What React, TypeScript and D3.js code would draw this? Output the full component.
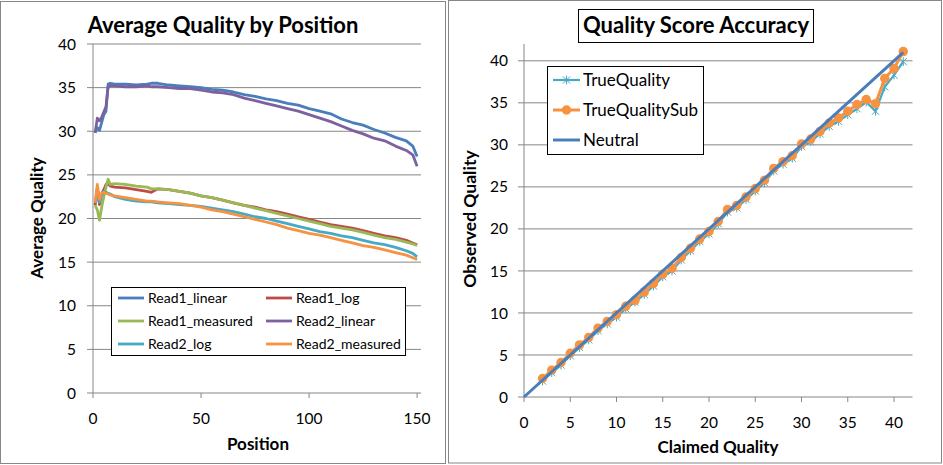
import React from 'react';
import * as d3 from 'd3';

// ---- left chart: average quality by read position ----
const positions = [1, 2, 3, 4, 5, 6, 7, 8, 10, 15, 20, 25, 27, 30, 35, 40, 45, 50, 55, 60, 65, 70, 75, 80, 85, 90, 95, 100, 105, 110, 115, 120, 125, 130, 135, 140, 145, 148, 150];

const read1Linear = [29.9, 30.4, 30.1, 31.0, 31.9, 32.3, 35.4, 35.5, 35.4, 35.4, 35.3, 35.4, 35.5, 35.5, 35.3, 35.2, 35.1, 35.0, 34.8, 34.7, 34.5, 34.2, 34.0, 33.7, 33.5, 33.2, 33.0, 32.6, 32.3, 32.0, 31.4, 31.0, 30.7, 30.2, 29.8, 29.3, 28.9, 28.3, 27.1];
const read1Log = [21.5, 23.5, 21.6, 22.8, 23.3, 23.9, 24.0, 23.7, 23.6, 23.5, 23.3, 23.1, 23.0, 23.4, 23.3, 23.1, 22.9, 22.6, 22.4, 22.1, 21.8, 21.5, 21.3, 21.0, 20.8, 20.5, 20.2, 19.9, 19.6, 19.3, 19.1, 18.9, 18.6, 18.3, 18.0, 17.8, 17.5, 17.2, 17.0];
const read1Measured = [21.5, 21.0, 19.8, 21.3, 22.5, 23.6, 24.5, 23.9, 24.0, 23.9, 23.7, 23.6, 23.4, 23.4, 23.3, 23.1, 22.9, 22.6, 22.4, 22.1, 21.8, 21.5, 21.2, 20.9, 20.6, 20.3, 20.0, 19.7, 19.4, 19.1, 18.9, 18.7, 18.4, 18.1, 17.8, 17.6, 17.3, 17.1, 16.9];
const read2Linear = [29.8, 31.5, 31.2, 31.6, 32.2, 32.8, 35.1, 35.2, 35.2, 35.1, 35.1, 35.2, 35.1, 35.1, 35.0, 34.9, 34.9, 34.7, 34.5, 34.4, 34.2, 33.8, 33.5, 33.2, 32.9, 32.6, 32.3, 31.9, 31.5, 31.1, 30.6, 30.1, 29.7, 29.2, 28.9, 28.3, 27.8, 27.3, 26.0];
const read2Log = [21.8, 22.4, 21.9, 22.7, 23.1, 23.0, 22.9, 22.8, 22.5, 22.2, 22.0, 21.9, 21.9, 21.8, 21.7, 21.6, 21.5, 21.4, 21.2, 21.0, 20.8, 20.5, 20.2, 20.0, 19.7, 19.4, 19.1, 18.8, 18.5, 18.3, 18.0, 17.8, 17.5, 17.2, 17.0, 16.7, 16.3, 16.0, 15.6];
const read2Measured = [21.8, 23.9, 22.2, 22.9, 23.0, 22.9, 22.8, 22.7, 22.6, 22.4, 22.2, 22.0, 22.0, 21.9, 21.8, 21.7, 21.5, 21.3, 21.0, 20.8, 20.5, 20.2, 19.9, 19.6, 19.3, 18.9, 18.6, 18.3, 18.1, 17.8, 17.5, 17.2, 16.9, 16.7, 16.4, 16.1, 15.8, 15.5, 15.3];

const leftSeries = [
  { name: 'Read1_linear', values: read1Linear, color: '#4A7EBB' },
  { name: 'Read1_log', values: read1Log, color: '#BE4B48' },
  { name: 'Read1_measured', values: read1Measured, color: '#98B954' },
  { name: 'Read2_linear', values: read2Linear, color: '#7D60A0' },
  { name: 'Read2_log', values: read2Log, color: '#46AAC5' },
  { name: 'Read2_measured', values: read2Measured, color: '#F69240' },
];
const leftXTicks = [0, 50, 100, 150];
const leftYTicks = [0, 5, 10, 15, 20, 25, 30, 35, 40];

// ---- right chart: quality score accuracy ----
const claimed = [2, 3, 4, 5, 6, 7, 8, 9, 10, 11, 12, 13, 14, 15, 16, 17, 18, 19, 20, 21, 22, 23, 24, 25, 26, 27, 28, 29, 30, 31, 32, 33, 34, 35, 36, 37, 38, 39, 40, 41];
const trueQuality = [1.9, 2.9, 3.8, 4.9, 5.9, 6.8, 7.9, 8.7, 9.5, 10.5, 11.3, 12.2, 13.2, 14.3, 15.0, 16.3, 17.4, 18.5, 19.4, 20.6, 22.0, 22.5, 23.5, 24.5, 25.5, 26.9, 27.7, 28.4, 29.8, 30.4, 31.3, 32.2, 32.8, 33.6, 34.3, 35.1, 34.0, 36.9, 38.3, 39.9];
const trueQualitySub = [2.2, 3.2, 4.1, 5.2, 6.2, 7.1, 8.2, 9.0, 9.8, 10.8, 11.5, 12.5, 13.5, 14.6, 15.3, 16.6, 17.7, 18.8, 19.7, 20.9, 22.3, 22.8, 23.8, 24.8, 25.8, 27.2, 28.0, 28.7, 30.1, 30.7, 31.6, 32.6, 33.2, 34.0, 34.8, 35.4, 34.9, 37.9, 39.1, 41.1];
const neutralX = [0, 41];
const neutralY = [0, 41];
const rightTicks = [0, 5, 10, 15, 20, 25, 30, 35, 40];

const FONT = "Lato, 'Noto Sans', sans-serif";
const GRID = '#868686';

function starPath(cx: number, cy: number, s = 3.6) {
  return `M${cx - s},${cy - s}L${cx + s},${cy + s}M${cx - s},${cy + s}L${cx + s},${cy - s}M${cx},${cy - s - 0.8}L${cx},${cy + s + 0.8}`;
}

function LeftChart() {
  const x = d3.scaleLinear().domain([0, 151.8]).range([93, 421]);
  const y = d3.scaleLinear().domain([0, 40]).range([393, 44]);
  const line = d3.line<number>().x((_, i) => x(positions[i])).y(d => y(d));
  const [x0, x1] = x.range();

  return (
    <g>
      <rect x={0.5} y={1.5} width={445} height={462} fill="#fff" stroke="#878787" />
      {leftYTicks.map(t => (
        <g key={t}>
          <line x1={x0 - 6} x2={x1} y1={y(t)} y2={y(t)} stroke={GRID} strokeWidth={1} />
          <text x={76} y={y(t)} dy="0.36em" textAnchor="end" fontSize={15.5} fill="#000">{t}</text>
        </g>
      ))}
      <line x1={x0} x2={x0} y1={y(40)} y2={y(0)} stroke={GRID} />
      {leftXTicks.map(t => (
        <g key={t}>
          <line x1={x(t)} x2={x(t)} y1={y(0)} y2={y(0) + 5} stroke={GRID} />
          <text x={x(t)} y={424} textAnchor="middle" fontSize={15.5} fill="#000">{t}</text>
        </g>
      ))}
      {leftSeries.map(s => (
        <path key={s.name} d={line(s.values) ?? ''} fill="none" stroke={s.color} strokeWidth={2.8} strokeLinejoin="round" />
      ))}
      <text x={223} y={33} textAnchor="middle" fontSize={22} fontWeight="bold">Average Quality by Position</text>
      <text x={258} y={450} textAnchor="middle" fontSize={17} fontWeight="bold">Position</text>
      <text transform="translate(43,218) rotate(-90)" textAnchor="middle" fontSize={17} fontWeight="bold">Average Quality</text>
      <rect x={111.5} y={287.5} width={294} height={68} fill="#fff" stroke="#000" />
      {leftSeries.map((s, i) => {
        const col = i % 2;
        const row = Math.floor(i / 2);
        const lx = col === 0 ? 118 : 266;
        const ly = 298 + row * 23;
        return (
          <g key={s.name}>
            <line x1={lx} x2={lx + 26} y1={ly} y2={ly} stroke={s.color} strokeWidth={2.8} />
            <text x={lx + 30} y={ly} dy="0.36em" fontSize={14}>{s.name}</text>
          </g>
        );
      })}
    </g>
  );
}

function RightChart() {
  const x = d3.scaleLinear().domain([0, 42]).range([524, 912.5]);
  const y = d3.scaleLinear().domain([0, 42]).range([397, 44]);
  const [x0, x1] = x.range();
  const line = d3.line<number>().x((_, i) => x(claimed[i])).y(d => y(d));
  const neutral = d3.line<number>().x((_, i) => x(neutralX[i])).y(d => y(d));

  return (
    <g>
      <rect x={448.5} y={0.5} width={493} height={462.5} fill="#fff" stroke="#878787" />
      {rightTicks.map(t => (
        <g key={t}>
          <line x1={x0 - 6} x2={x1} y1={y(t)} y2={y(t)} stroke={GRID} />
          <text x={508} y={y(t)} dy="0.36em" textAnchor="end" fontSize={15.5}>{t}</text>
          <line x1={x(t)} x2={x(t)} y1={y(0)} y2={y(0) + 5} stroke={GRID} />
          <text x={x(t)} y={428} textAnchor="middle" fontSize={15.5}>{t}</text>
        </g>
      ))}
      <line x1={x0} x2={x0} y1={y(42)} y2={y(0)} stroke={GRID} />
      <path d={line(trueQuality) ?? ''} fill="none" stroke="#46AAC5" strokeWidth={2.2} />
      {trueQuality.map((v, i) => (
        <path key={i} d={starPath(x(claimed[i]), y(v))} stroke="#46AAC5" strokeWidth={1} fill="none" />
      ))}
      <path d={line(trueQualitySub) ?? ''} fill="none" stroke="#F69240" strokeWidth={3} />
      {trueQualitySub.map((v, i) => (
        <circle key={i} cx={x(claimed[i])} cy={y(v)} r={4.7} fill="#F69240" />
      ))}
      <path d={neutral(neutralY) ?? ''} fill="none" stroke="#4A7EBB" strokeWidth={3} />

      <rect x={578.5} y={9.5} width={235} height={33} fill="#fff" stroke="#000" />
      <text x={696} y={33} textAnchor="middle" fontSize={22} fontWeight="bold">Quality Score Accuracy</text>
      <text x={718} y={453} textAnchor="middle" fontSize={17} fontWeight="bold">Claimed Quality</text>
      <text transform="translate(476,219) rotate(-90)" textAnchor="middle" fontSize={17.5} fontWeight="bold">Observed Quality</text>

      <rect x={547.5} y={66.5} width={156} height={88} fill="#fff" stroke="#000" />
      <g>
        <line x1={553} x2={580} y1={80} y2={80} stroke="#46AAC5" strokeWidth={2.2} />
        <path d={starPath(566.5, 80)} stroke="#46AAC5" fill="none" />
        <text x={583} y={80} dy="0.36em" fontSize={17}>TrueQuality</text>
        <line x1={553} x2={580} y1={110} y2={110} stroke="#F69240" strokeWidth={3} />
        <circle cx={566.5} cy={110} r={4.7} fill="#F69240" />
        <text x={583} y={110} dy="0.36em" fontSize={17}>TrueQualitySub</text>
        <line x1={553} x2={580} y1={140} y2={140} stroke="#4A7EBB" strokeWidth={3} />
        <text x={583} y={140} dy="0.36em" fontSize={17}>Neutral</text>
      </g>
    </g>
  );
}

export default function App() {
  return (
    <div style={{ position: 'absolute', left: 0, top: 0 }}>
      <svg width={943} height={465} fontFamily={FONT} style={{ display: 'block', background: '#fff' }}>
        <LeftChart />
        <RightChart />
      </svg>
    </div>
  );
}
